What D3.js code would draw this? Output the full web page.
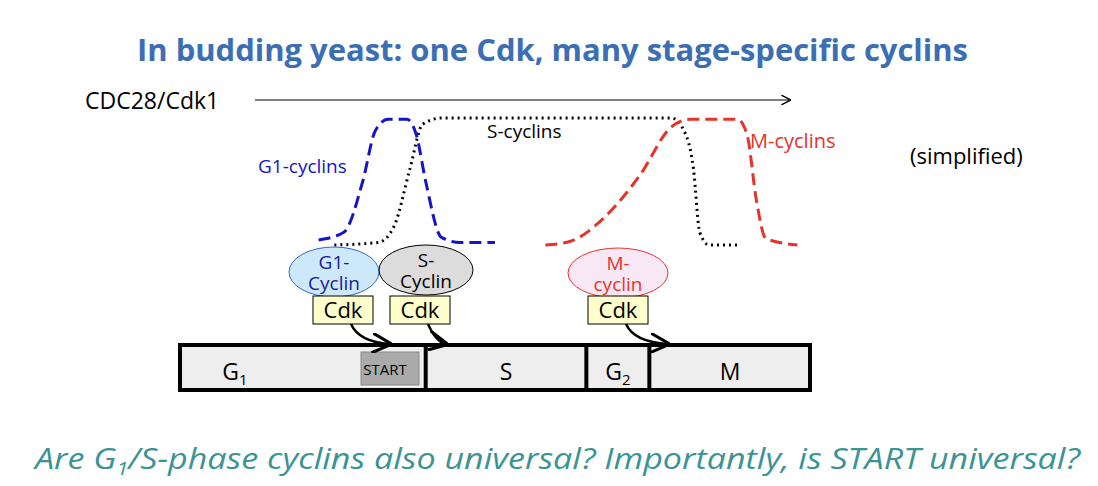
<!DOCTYPE html>
<html><head><meta charset="utf-8">
<script src="https://cdn.jsdelivr.net/npm/d3@7"></script>
<style>body{margin:0;background:#fff}text{font-family:"Open Sans","Liberation Sans",sans-serif}</style>
</head><body><svg id="viz" width="1098" height="486"></svg>
<script>
// cycle time (0-100 across the bar) and relative cyclin level (0-1)
var g1Time = [22, 26, 29, 31, 33, 36, 37.5, 39, 41.5, 44.5, 50];
var g1Level = [0.04, 0.1, 0.5, 0.9, 0.99, 0.99, 0.87, 0.5, 0.06, 0.02, 0.02];
var sTime = [24.5, 31.5, 34, 36.5, 38.5, 41.5, 78, 80, 81.5, 82.5, 84, 89];
var sLevel = [0.0, 0.02, 0.15, 0.6, 0.95, 1.0, 1.0, 0.9, 0.6, 0.1, 0.0, 0.0];
var mTime = [58, 62, 67, 73, 78, 81, 88.5, 90, 91.5, 93, 98];
var mLevel = [0.0, 0.03, 0.2, 0.55, 0.93, 0.99, 0.99, 0.87, 0.35, 0.05, 0.0];
var phases = ["G1", "S", "G2", "M"];
var phaseEnds = [0, 39, 64.5, 74.5, 100];

var svg = d3.select("#viz");
var x = d3.scaleLinear().domain([0, 100]).range([180, 810]);
var y = d3.scaleLinear().domain([0, 1]).range([245, 118]);

svg.append("text").attr("x", 137).attr("y", 61)
  .attr("font-size", 30).attr("font-weight", "bold").attr("fill", "#3c6eb4")
  .attr("textLength", 831).attr("lengthAdjust", "spacingAndGlyphs")
  .text("In budding yeast: one Cdk, many stage-specific cyclins");

svg.append("defs").append("marker").attr("id", "ah").attr("viewBox", "0 0 10 10")
  .attr("refX", 9).attr("refY", 5).attr("markerWidth", 8).attr("markerHeight", 8).attr("orient", "auto")
  .append("path").attr("d", "M0,0L10,5L0,10").attr("fill", "none").attr("stroke", "#000").attr("stroke-width", 1.5);

svg.append("text").attr("x", 85).attr("y", 109).attr("font-size", 23).text("CDC28/Cdk1");
svg.append("line").attr("x1", 255).attr("x2", 790).attr("y1", 100).attr("y2", 100)
  .attr("stroke", "#000").attr("stroke-width", 1.2).attr("marker-end", "url(#ah)");

var line = d3.line().x(function(d){ return x(d[0]); }).y(function(d){ return y(d[1]); }).curve(d3.curveMonotoneX);
function curve(t, l, color, dash, w) {
  svg.append("path").attr("d", line(d3.zip(t, l))).attr("fill", "none")
    .attr("stroke", color).attr("stroke-width", w).attr("stroke-dasharray", dash);
}
curve(sTime, sLevel, "#000", "2,4", 3);
curve(g1Time, g1Level, "#1515c8", "12,6", 3);
curve(mTime, mLevel, "#e6332a", "12,6", 3);

svg.append("text").attr("x", 258).attr("y", 173).attr("font-size", 19).attr("fill", "#1515c8").text("G1-cyclins");
svg.append("text").attr("x", 487).attr("y", 138).attr("font-size", 19).attr("fill", "#000").text("S-cyclins");
svg.append("text").attr("x", 750).attr("y", 148).attr("font-size", 20).attr("fill", "#e6332a").text("M-cyclins");
svg.append("text").attr("x", 910).attr("y", 164).attr("font-size", 22).text("(simplified)");

// cell cycle bar
var barTop = 345, barH = 45;
svg.append("rect").attr("x", x(0)).attr("y", barTop).attr("width", x(100) - x(0)).attr("height", barH)
  .attr("fill", "#eeeeee").attr("stroke", "#000").attr("stroke-width", 4);
svg.append("rect").attr("x", 361).attr("y", 352).attr("width", 58).attr("height", 33)
  .attr("fill", "#aaaaaa").attr("stroke", "#888").attr("stroke-width", 1);
svg.append("text").attr("x", 385).attr("y", 375).attr("text-anchor", "middle").attr("font-size", 15).text("START");
phaseEnds.slice(1, 4).forEach(function(p){
  svg.append("line").attr("x1", x(p)).attr("x2", x(p)).attr("y1", barTop).attr("y2", barTop + barH)
    .attr("stroke", "#000").attr("stroke-width", 4);
});
var labelX = [235, 506, 618, 730];
phases.forEach(function(p, i){
  var t = svg.append("text").attr("x", labelX[i]).attr("y", 380).attr("text-anchor", "middle").attr("font-size", 23);
  if (p.length > 1) {
    t.text(p[0]);
    t.append("tspan").attr("font-size", 15).attr("dy", 5).text(p[1]);
  } else t.text(p);
});

// complexes
var complexes = [
  {cx: 334, cy: 272, rx: 45, fill: "#cde8f8", stroke: "#36c", txt: ["G1-", "Cyclin"], col: "#1b1b9a", cdk: 313, to: 390},
  {cx: 426, cy: 270, rx: 47, fill: "#dcdcdc", stroke: "#000", txt: ["S-", "Cyclin"], col: "#000", cdk: 390, to: 446},
  {cx: 618, cy: 273, rx: 50, fill: "#f8e8f6", stroke: "#e6332a", txt: ["M-", "cyclin"], col: "#e6332a", cdk: 588, to: 668}
];
complexes.forEach(function(c){
  svg.append("ellipse").attr("cx", c.cx).attr("cy", c.cy).attr("rx", c.rx).attr("ry", 25)
    .attr("fill", c.fill).attr("stroke", c.stroke).attr("stroke-width", 1);
  c.txt.forEach(function(s, i){
    svg.append("text").attr("x", c.cx).attr("y", c.cy - 3 + i * 21).attr("text-anchor", "middle")
      .attr("font-size", 19).attr("fill", c.col).text(s);
  });
  svg.append("rect").attr("x", c.cdk).attr("y", 296).attr("width", 60).attr("height", 28)
    .attr("fill", "#ffffcc").attr("stroke", "#000").attr("stroke-width", 1);
  svg.append("text").attr("x", c.cdk + 30).attr("y", 318).attr("text-anchor", "middle").attr("font-size", 22).text("Cdk");
  var sx = c.cdk + 38;
  svg.append("path").attr("d", "M" + sx + ",324 Q" + (sx + 8) + ",342 " + c.to + ",344")
    .attr("fill", "none").attr("stroke", "#000").attr("stroke-width", 2.5).attr("marker-end", "url(#ah)");
});

var q = svg.append("text").attr("x", 35).attr("y", 469)
  .attr("font-size", 30).attr("font-style", "italic").attr("fill", "#3a9494")
  .attr("textLength", 1045).attr("lengthAdjust", "spacingAndGlyphs");
q.append("tspan").text("Are G");
q.append("tspan").attr("font-size", 19).attr("dy", 6).text("1");
q.append("tspan").attr("dy", -6).text("/S-phase cyclins also universal? Importantly, is START universal?");
</script></body></html>
